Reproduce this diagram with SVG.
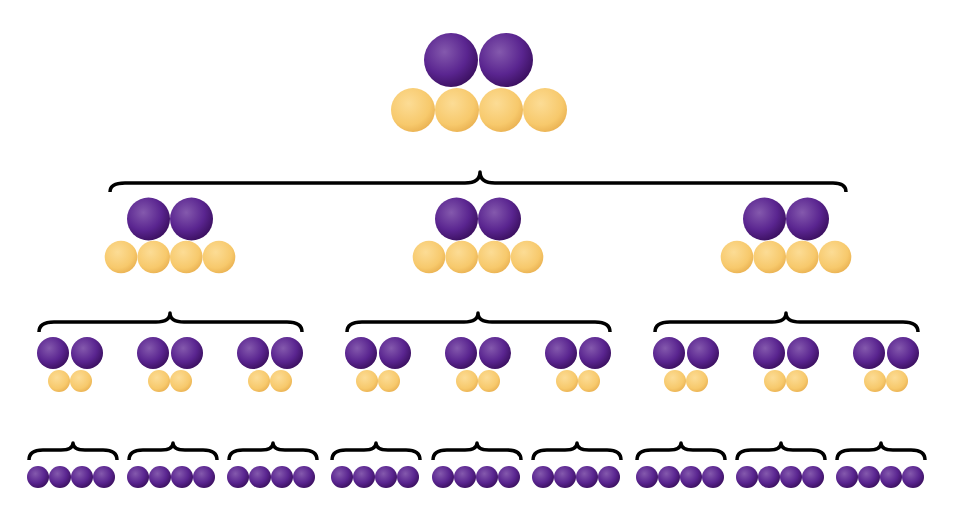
<svg xmlns="http://www.w3.org/2000/svg" xmlns:xlink="http://www.w3.org/1999/xlink" width="960" height="529" viewBox="0 0 960 529">
<defs>
<radialGradient id="gp" cx="0.38" cy="0.35" r="0.7"><stop offset="0" stop-color="#8459ad"/><stop offset="0.6" stop-color="#5a2590"/><stop offset="1" stop-color="#3a0f5e"/></radialGradient>
<radialGradient id="gy" cx="0.4" cy="0.35" r="0.7"><stop offset="0" stop-color="#fcdc95"/><stop offset="0.7" stop-color="#f7c96c"/><stop offset="1" stop-color="#e9b050"/></radialGradient>
<circle id="P1" r="27" fill="url(#gp)"/><circle id="Y1" r="22" fill="url(#gy)"/>
<circle id="P2" r="21.5" fill="url(#gp)"/><circle id="Y2" r="16.3" fill="url(#gy)"/>
<circle id="P3" r="16" fill="url(#gp)"/><circle id="Y3" r="11" fill="url(#gy)"/>
<circle id="P4" r="11" fill="url(#gp)"/>
<g id="sm"><use href="#P3" x="-17" y="353"/><use href="#P3" x="17" y="353"/><use href="#Y3" x="-11" y="381"/><use href="#Y3" x="11" y="381"/></g>
<g id="md"><use href="#P2" x="-21.5" y="219"/><use href="#P2" x="21.5" y="219"/><use href="#Y2" x="-49" y="257"/><use href="#Y2" x="-16.3" y="257"/><use href="#Y2" x="16.3" y="257"/><use href="#Y2" x="49" y="257"/></g>
<g id="bt"><use href="#P4" x="-33" y="477"/><use href="#P4" x="-11" y="477"/><use href="#P4" x="11" y="477"/><use href="#P4" x="33" y="477"/></g>
<path id="b3" d="M-44,460 Q-44,450 -30,450 L-12,450 Q0,450 0,443 Q0,450 12,450 L30,450 Q44,450 44,460"/>
</defs>
<style>.br{fill:none;stroke:#000;stroke-width:3.5;stroke-linejoin:round}</style>
<g id="top"><use href="#P1" x="451" y="60"/><use href="#P1" x="506" y="60"/><use href="#Y1" x="413" y="110"/><use href="#Y1" x="457" y="110"/><use href="#Y1" x="501" y="110"/><use href="#Y1" x="545" y="110"/></g>
<g id="mid1" transform="translate(170,0)"><use href="#md"/></g>
<g id="mid2" transform="translate(478,0)"><use href="#md"/></g>
<g id="mid3" transform="translate(786,0)"><use href="#md"/></g>
<g id="small">
<use href="#sm" x="70"/><use href="#sm" x="170"/><use href="#sm" x="270"/>
<use href="#sm" x="378"/><use href="#sm" x="478"/><use href="#sm" x="578"/>
<use href="#sm" x="686"/><use href="#sm" x="786"/><use href="#sm" x="886"/>
</g>
<g id="bottom">
<use href="#bt" x="71"/><use href="#bt" x="171"/><use href="#bt" x="271"/>
<use href="#bt" x="375"/><use href="#bt" x="476"/><use href="#bt" x="576"/>
<use href="#bt" x="680"/><use href="#bt" x="780"/><use href="#bt" x="880"/>
</g>
<g id="connectors" class="br">
<path d="M110,192 Q110,183 125,183 L465,183 Q480,183 480,172 Q480,183 495,183 L833,183 Q846,183 846,192"/>
<path d="M39,332 Q39,322 54,322 L156,322 Q170,322 170,313 Q170,322 184,322 L287,322 Q302,322 302,332"/>
<path d="M347,332 Q347,322 362,322 L464,322 Q478,322 478,313 Q478,322 492,322 L595,322 Q610,322 610,332"/>
<path d="M655,332 Q655,322 670,322 L772,322 Q786,322 786,313 Q786,322 800,322 L903,322 Q918,322 918,332"/>
<use href="#b3" x="73"/><use href="#b3" x="173"/><use href="#b3" x="273"/>
<use href="#b3" x="376"/><use href="#b3" x="477"/><use href="#b3" x="577"/>
<use href="#b3" x="681"/><use href="#b3" x="781"/><use href="#b3" x="881"/>
</g>
</svg>
